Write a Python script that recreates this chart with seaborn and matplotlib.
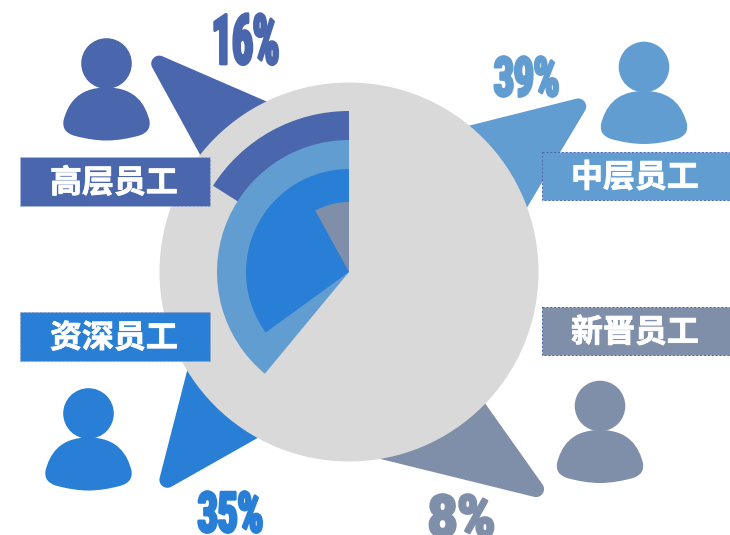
import matplotlib
matplotlib.use("Agg")
import matplotlib.pyplot as plt
import matplotlib.patheffects as pe
from matplotlib.font_manager import FontProperties
from matplotlib.patches import Circle, PathPatch, Rectangle
from matplotlib.path import Path
from matplotlib.textpath import TextPath
from matplotlib.transforms import Affine2D
import numpy as np
import seaborn as sns

# data
groups = ["高层员工", "中层员工", "资深员工", "新晋员工"]
shares = [16, 39, 35, 8]
colors = ["#4A66AC", "#629DD1", "#297FD5", "#7F8FA9"]

# layout, in pixels of the 730x535 picture
radii = [161, 132, 103, 70]
center = (349, 272)
boxes = [(20, 157, 190, 49), (542, 152, 188, 48), (20, 312, 190, 49), (542, 307, 188, 48)]
box_edges = ["#A9B8DC", "#4A66AC", "#9A9CC0", "#4A66AC"]
heads = [(106.5, 63.5), (644, 67), (88.5, 413.5), (600, 406)]
# sharp tip corner, far ends of its two sides (under the disc)
pointers = [
    ((141, 47), (300, 116), (215, 182)),
    ((595, 94), (420, 138), (510, 236)),
    ((155, 496), (195, 340), (300, 414)),
    ((555, 502), (340, 449), (465, 375)),
]
tip_radius = 8
# left, right, top, baseline of each percent text
pct_boxes = [
    (214, 277, 13, 64),
    (495, 558, 56, 96),
    (199, 262, 491, 532),
    (430, 493, 494, 536),
]
pct_font = FontProperties(family="Roboto", weight="black")


class Squeeze(pe.AbstractPathEffect):
    # narrows the glyphs of a real text around its centre, there is no condensed heavy font here
    def __init__(self, cx, sx, lw):
        super().__init__()
        self.cx, self.sx, self.lw = cx, sx, lw

    def draw_path(self, renderer, gc, tpath, affine, rgbFace=None):
        aff = affine + Affine2D().translate(-self.cx, 0).scale(self.sx, 1).translate(self.cx, 0)
        gc0 = renderer.new_gc()
        gc0.copy_properties(gc)
        gc0.set_foreground(rgbFace)
        gc0.set_linewidth(self.lw)
        renderer.draw_path(gc0, tpath, aff, rgbFace)
        gc0.restore()


def draw_person(ax, x, y, color):
    ax.add_patch(Circle((x, y), 25.3, fc=color, ec="none", zorder=3))
    right = [(x + 30, y + 24), (x + 39, y + 42), (x + 43, y + 57),
             (x + 44, y + 65), (x + 41, y + 69), (x + 33, y + 72),
             (x + 22, y + 75), (x + 11, y + 77), (x, y + 77)]
    left = [(2 * x - a, b) for a, b in right[-2::-1]] + [(x, y + 24)]
    verts = [(x, y + 24)] + right + left
    codes = [Path.MOVETO] + [Path.CURVE4] * (len(verts) - 1)
    ax.add_patch(PathPatch(Path(verts, codes), fc=color, ec="none", zorder=3))


def draw_pointer(ax, pts, color):
    tip, far_a, far_b = [np.array(p, float) for p in pts]
    u = (far_a - tip) / np.linalg.norm(far_a - tip)
    v = (far_b - tip) / np.linalg.norm(far_b - tip)
    half = np.arccos(np.dot(u, v)) / 2
    d = tip_radius / np.tan(half)
    handle = 4 / 3 * np.tan((np.pi - 2 * half) / 4) * tip_radius
    a, b = tip + u * d, tip + v * d
    verts = [far_a, a, a - u * handle, b - v * handle, b, far_b, far_a]
    codes = [Path.MOVETO, Path.LINETO, Path.CURVE4, Path.CURVE4, Path.CURVE4, Path.LINETO, Path.CLOSEPOLY]
    ax.add_patch(PathPatch(Path(verts, codes), fc=color, ec="none", zorder=1))


sns.set_theme(style="white")
plt.rcParams["font.family"] = ["Noto Sans CJK SC", "DejaVu Sans"]
palette = sns.color_palette(colors)

fig = plt.figure(figsize=(7.3, 5.35), dpi=100)
ax = fig.add_axes([0, 0, 1, 1])

for pts, c in zip(pointers, palette):
    draw_pointer(ax, pts, c)

# grey disc with one wedge per group, largest radius first, all starting at 12 o'clock
ax.pie([100], radius=189.5, center=center, colors=["#D9D9D9"], wedgeprops={"zorder": 2, "lw": 0})
for share, r, c in zip(shares, radii, palette):
    ax.pie([share, 100 - share], radius=r, center=center, colors=[c, "none"],
           startangle=-90, counterclock=False, wedgeprops={"zorder": 2, "lw": 0})

for group, box, edge, c in zip(groups, boxes, box_edges, palette):
    x, y, w, h = box
    ax.add_patch(Rectangle((x, y), w, h, fc=c, ec=edge, lw=0.7, ls=(0, (2, 2)), zorder=4))
    t = ax.text(x + w / 2 - 1, y + h / 2 + 2, group, color="white", fontsize=23, fontweight="bold",
                ha="center", va="center", zorder=5)
    t.set_path_effects([pe.withStroke(linewidth=0.6, foreground="white")])

for head, c in zip(heads, palette):
    draw_person(ax, head[0], head[1], c)

for share, pb, c in zip(shares, pct_boxes, palette):
    x0, x1, top, base = pb
    label = f"{share}%"
    ext = TextPath((0, 0), label, size=100, prop=pct_font).get_extents()
    size = (base - top) / ext.height * 72
    sx = (x1 - x0) / (ext.width * size / 72)
    cx = (x0 + x1) / 2
    t = ax.text(cx, base, label, color=c, fontsize=size, family="Roboto",
                fontweight="black", ha="center", va="baseline", zorder=5)
    t.set_path_effects([Squeeze(cx, sx, 2.0)])

ax.set_xlim(0, 730)
ax.set_ylim(535, 0)
ax.set_aspect("auto")
ax.axis("off")

fig.savefig("out.png", dpi=100)
